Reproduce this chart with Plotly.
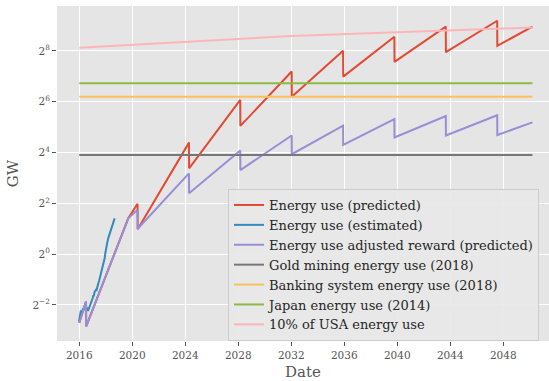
import plotly.graph_objects as go
import math

# ---- data (years as decimal years, values in GW) ----
pred_years = [2016.0, 2016.51, 2016.52, 2019.7, 2020.40, 2020.41, 2024.28, 2024.29,
              2028.15, 2028.16, 2032.03, 2032.04, 2035.91, 2035.92, 2039.78, 2039.79,
              2043.66, 2043.67, 2047.54, 2047.55, 2050.2]
pred_gw = [0.154, 0.274, 0.139, 2.66, 3.95, 1.97, 20.97, 10.41,
           67.2, 33.1, 146.0, 73.5, 257.8, 127.1, 377.4, 190.0,
           498.0, 247.3, 584.0, 294.1, 498.0]

adj_gw = [0.154, 0.274, 0.139, 2.66, 3.36, 2.00, 9.06, 5.28,
          16.9, 9.92, 25.5, 15.3, 33.4, 19.7, 39.9, 24.1,
          43.4, 25.5, 44.3, 25.8, 36.5]

est_years = [2015.98, 2016.03, 2016.06, 2016.12, 2016.18, 2016.22, 2016.27, 2016.32,
             2016.40, 2016.48, 2016.55, 2016.60, 2016.66, 2016.72, 2016.76, 2016.82,
             2016.86, 2016.96, 2017.01, 2017.06, 2017.10, 2017.15, 2017.24, 2017.29,
             2017.33, 2017.41, 2017.50, 2017.56, 2017.62, 2017.70, 2017.76, 2017.81,
             2017.86, 2017.92, 2017.97, 2018.04, 2018.10, 2018.19, 2018.27, 2018.37,
             2018.43, 2018.49, 2018.56, 2018.62, 2018.67]
est_gw = [0.158, 0.175, 0.203, 0.215, 0.200, 0.207, 0.222, 0.218,
          0.233, 0.259, 0.225, 0.232, 0.212, 0.224, 0.230, 0.241,
          0.250, 0.277, 0.300, 0.325, 0.316, 0.354, 0.374, 0.366,
          0.398, 0.435, 0.483, 0.529, 0.543, 0.616, 0.683, 0.732,
          0.841, 0.901, 1.035, 1.231, 1.338, 1.548, 1.682, 1.866,
          1.973, 2.219, 2.329, 2.497, 2.657]

ref_years = [2016.0, 2050.2]
gold_gw = [15.0, 15.0]
banking_gw = [73.5, 73.5]
japan_gw = [106.1, 106.1]

usa_years = [2016.0, 2032.0, 2040.0, 2050.2]
usa10_gw = [280.1, 385.3, 427.5, 484.4]

x_ticks = [2016, 2020, 2024, 2028, 2032, 2036, 2040, 2044, 2048]
y_tick_exps = [-2, 0, 2, 4, 6, 8]

names = ["Energy use (predicted)", "Energy use (estimated)",
         "Energy use adjusted reward (predicted)", "Gold mining energy use (2018)",
         "Banking system energy use (2018)", "Japan energy use (2014)",
         "10% of USA energy use"]
colors = ["#E24A33", "#348ABD", "#988ED5", "#777777", "#FBC15E", "#8EBA42", "#FFB5B8"]

series = [(pred_years, pred_gw), (est_years, est_gw), (pred_years, adj_gw),
          (ref_years, gold_gw), (ref_years, banking_gw), (ref_years, japan_gw),
          (usa_years, usa10_gw)]

fig = go.Figure()
for (xs, ys), nm, c in zip(series, names, colors):
    fig.add_trace(go.Scatter(x=xs, y=ys, mode="lines", name=nm,
                             line=dict(color=c, width=2)))

font_family = "DejaVu Serif"
fig.update_layout(
    width=549, height=381,
    margin=dict(l=57, r=0, t=6, b=40),
    paper_bgcolor="white",
    plot_bgcolor="#E5E5E5",
    font=dict(family=font_family, color="#555555"),
    legend=dict(x=0.3476, y=0.4537, xanchor="left", yanchor="top",
                bgcolor="rgba(232,232,232,0.9)", bordercolor="#CCCCCC", borderwidth=1,
                font=dict(family=font_family, size=13, color="#262626"),
                tracegroupgap=0),
    showlegend=True,
)
fig.update_xaxes(
    range=[2014.32, 2051.45],
    tickvals=x_ticks, ticktext=[str(t) for t in x_ticks],
    showgrid=True, gridcolor="white", gridwidth=1, zeroline=False,
    ticks="outside", ticklen=4, tickcolor="#555555",
    tickfont=dict(size=10.5, color="#555555", family=font_family),
    title=dict(text="Date", font=dict(size=15, color="#555555", family=font_family), standoff=8),
    showline=False, automargin=False,
)
fig.update_yaxes(
    type="log",
    range=[-3.42 * math.log10(2), 9.77 * math.log10(2)],
    tickvals=[2.0 ** e for e in y_tick_exps],
    ticktext=["2<sup>%s</sup>" % (str(e).replace("-", "\u2212")) for e in y_tick_exps],
    showgrid=True, gridcolor="white", gridwidth=1, zeroline=False,
    ticks="outside", ticklen=4, tickcolor="#555555",
    tickfont=dict(size=10.5, color="#555555", family=font_family),
    title=dict(text="GW", font=dict(size=15, color="#555555", family=font_family), standoff=10),
    showline=False, automargin=False,
)

fig.write_html("out.html", config={"displayModeBar": False},
               post_script="document.body.style.margin='0';document.body.style.overflow='hidden';")
